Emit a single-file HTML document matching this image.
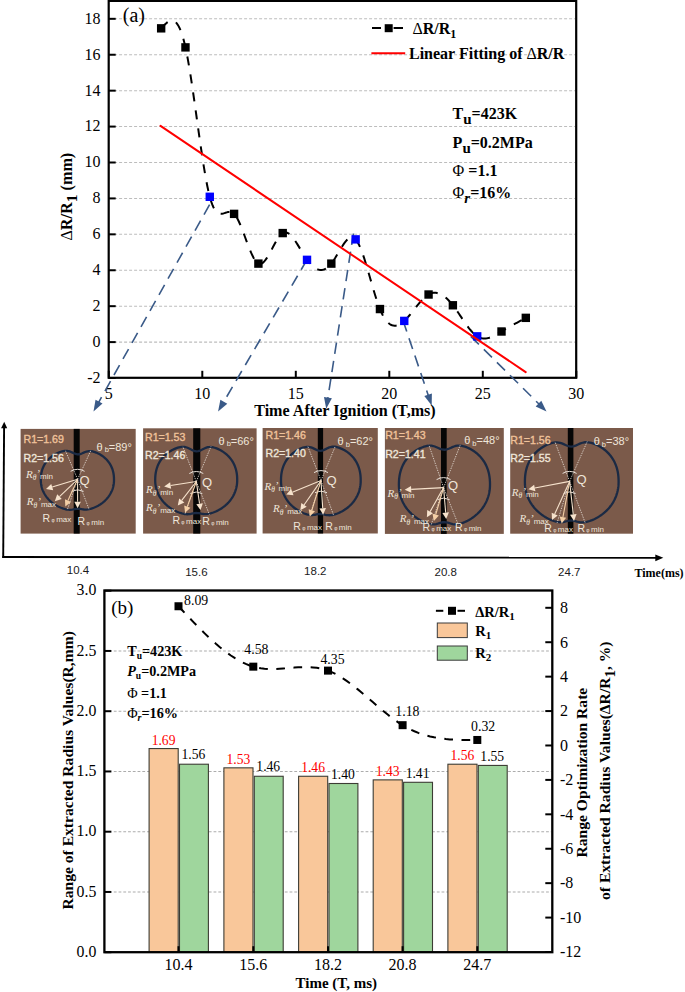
<!DOCTYPE html>
<html><head><meta charset="utf-8"><style>
html,body{margin:0;padding:0;background:#fff;}
svg{display:block;}
</style></head><body>
<svg width="685" height="992" viewBox="0 0 685 992" font-family="Liberation Serif">
<line x1="109.7" y1="342.1" x2="575.2" y2="342.1" stroke="#bdbdbd" stroke-width="1.05" stroke-dasharray="3,2" stroke-dashoffset="0.6"/>
<line x1="109.7" y1="306.18" x2="575.2" y2="306.18" stroke="#bdbdbd" stroke-width="1.05" stroke-dasharray="3,2" stroke-dashoffset="0.6"/>
<line x1="109.7" y1="270.26" x2="575.2" y2="270.26" stroke="#bdbdbd" stroke-width="1.05" stroke-dasharray="3,2" stroke-dashoffset="0.6"/>
<line x1="109.7" y1="234.34" x2="575.2" y2="234.34" stroke="#bdbdbd" stroke-width="1.05" stroke-dasharray="3,2" stroke-dashoffset="0.6"/>
<line x1="109.7" y1="198.42" x2="575.2" y2="198.42" stroke="#bdbdbd" stroke-width="1.05" stroke-dasharray="3,2" stroke-dashoffset="0.6"/>
<line x1="109.7" y1="162.5" x2="575.2" y2="162.5" stroke="#bdbdbd" stroke-width="1.05" stroke-dasharray="3,2" stroke-dashoffset="0.6"/>
<line x1="109.7" y1="126.58" x2="575.2" y2="126.58" stroke="#bdbdbd" stroke-width="1.05" stroke-dasharray="3,2" stroke-dashoffset="0.6"/>
<line x1="109.7" y1="90.66" x2="575.2" y2="90.66" stroke="#bdbdbd" stroke-width="1.05" stroke-dasharray="3,2" stroke-dashoffset="0.6"/>
<line x1="109.7" y1="54.74" x2="575.2" y2="54.74" stroke="#bdbdbd" stroke-width="1.05" stroke-dasharray="3,2" stroke-dashoffset="0.6"/>
<line x1="109.7" y1="18.82" x2="575.2" y2="18.82" stroke="#bdbdbd" stroke-width="1.05" stroke-dasharray="3,2" stroke-dashoffset="0.6"/>
<rect x="108.7" y="0.9" width="467.5" height="376.9" fill="none" stroke="#000" stroke-width="2.2"/>
<line x1="108.7" y1="378.02" x2="115.7" y2="378.02" stroke="#000" stroke-width="2"/>
<text x="100.5" y="382.92" font-size="16" text-anchor="end">-2</text>
<line x1="108.7" y1="342.1" x2="115.7" y2="342.1" stroke="#000" stroke-width="2"/>
<text x="100.5" y="347" font-size="16" text-anchor="end">0</text>
<line x1="108.7" y1="306.18" x2="115.7" y2="306.18" stroke="#000" stroke-width="2"/>
<text x="100.5" y="311.08" font-size="16" text-anchor="end">2</text>
<line x1="108.7" y1="270.26" x2="115.7" y2="270.26" stroke="#000" stroke-width="2"/>
<text x="100.5" y="275.16" font-size="16" text-anchor="end">4</text>
<line x1="108.7" y1="234.34" x2="115.7" y2="234.34" stroke="#000" stroke-width="2"/>
<text x="100.5" y="239.24" font-size="16" text-anchor="end">6</text>
<line x1="108.7" y1="198.42" x2="115.7" y2="198.42" stroke="#000" stroke-width="2"/>
<text x="100.5" y="203.32" font-size="16" text-anchor="end">8</text>
<line x1="108.7" y1="162.5" x2="115.7" y2="162.5" stroke="#000" stroke-width="2"/>
<text x="100.5" y="167.4" font-size="16" text-anchor="end">10</text>
<line x1="108.7" y1="126.58" x2="115.7" y2="126.58" stroke="#000" stroke-width="2"/>
<text x="100.5" y="131.48" font-size="16" text-anchor="end">12</text>
<line x1="108.7" y1="90.66" x2="115.7" y2="90.66" stroke="#000" stroke-width="2"/>
<text x="100.5" y="95.56" font-size="16" text-anchor="end">14</text>
<line x1="108.7" y1="54.74" x2="115.7" y2="54.74" stroke="#000" stroke-width="2"/>
<text x="100.5" y="59.64" font-size="16" text-anchor="end">16</text>
<line x1="108.7" y1="18.82" x2="115.7" y2="18.82" stroke="#000" stroke-width="2"/>
<text x="100.5" y="23.72" font-size="16" text-anchor="end">18</text>
<line x1="108.8" y1="377.8" x2="108.8" y2="370.8" stroke="#000" stroke-width="2"/>
<text x="108.8" y="398.6" font-size="16" text-anchor="middle">5</text>
<line x1="202.3" y1="377.8" x2="202.3" y2="370.8" stroke="#000" stroke-width="2"/>
<text x="202.3" y="398.6" font-size="16" text-anchor="middle">10</text>
<line x1="295.8" y1="377.8" x2="295.8" y2="370.8" stroke="#000" stroke-width="2"/>
<text x="295.8" y="398.6" font-size="16" text-anchor="middle">15</text>
<line x1="389.3" y1="377.8" x2="389.3" y2="370.8" stroke="#000" stroke-width="2"/>
<text x="389.3" y="398.6" font-size="16" text-anchor="middle">20</text>
<line x1="482.8" y1="377.8" x2="482.8" y2="370.8" stroke="#000" stroke-width="2"/>
<text x="482.8" y="398.6" font-size="16" text-anchor="middle">25</text>
<line x1="576.3" y1="377.8" x2="576.3" y2="370.8" stroke="#000" stroke-width="2"/>
<text x="576.3" y="398.6" font-size="16" text-anchor="middle">30</text>
<text x="122.8" y="22.3" font-size="20">(a)</text>
<text transform="translate(72.2,240.6) rotate(-90)" font-size="16.2" font-weight="bold"><tspan font-weight="normal">&#916;</tspan>R/R<tspan font-size="15.5" dy="5">1</tspan><tspan dy="-5"> (mm)</tspan></text>
<line x1="372" y1="28" x2="381" y2="28" stroke="#000" stroke-width="2"/>
<rect x="384.7" y="24.2" width="8" height="8" fill="#000"/>
<line x1="393.6" y1="28" x2="403" y2="28" stroke="#000" stroke-width="2"/>
<text x="412.5" y="33.8" font-size="16" font-weight="bold"><tspan font-weight="normal">&#916;</tspan>R/R<tspan font-size="12" dy="4.6">1</tspan></text>
<line x1="371.4" y1="53.3" x2="405.2" y2="53.3" stroke="#ff0000" stroke-width="2"/>
<text x="409" y="59.2" font-size="16" font-weight="bold">Linear Fitting of <tspan font-weight="normal">&#916;</tspan>R/R</text>
<text x="452.6" y="118.9" font-size="16" font-weight="bold">T<tspan font-size="15" dy="5">u</tspan><tspan dy="-5">=423K</tspan></text>
<text x="452.6" y="147.7" font-size="16" font-weight="bold">P<tspan font-size="15" dy="5">u</tspan><tspan dy="-5">=0.2MPa</tspan></text>
<text x="452.6" y="175.7" font-size="16"><tspan>&#934;</tspan><tspan font-weight="bold"> =1.1</tspan></text>
<text x="452.6" y="198.2" font-size="16">&#934;<tspan font-size="15" font-weight="bold" font-style="italic" dy="5">r</tspan><tspan font-weight="bold" dy="-5">=16%</tspan></text>
<line x1="209.6" y1="204.6" x2="98.54" y2="402.52" stroke="#3a5a88" stroke-width="1.6" stroke-dasharray="11.4,7"/>
<polygon points="93.5,411.5 95.54,399.69 102.52,403.6" fill="#3a5a88"/>
<line x1="306.9" y1="259.9" x2="223.31" y2="402.51" stroke="#3a5a88" stroke-width="1.6" stroke-dasharray="11.4,7"/>
<polygon points="218.1,411.4 220.36,399.63 227.27,403.67" fill="#3a5a88"/>
<line x1="353.4" y1="233.5" x2="327.78" y2="398.62" stroke="#3a5a88" stroke-width="1.6" stroke-dasharray="11.4,7"/>
<polygon points="326.2,408.8 323.98,397.02 331.89,398.25" fill="#3a5a88"/>
<line x1="403.1" y1="320.7" x2="428.41" y2="395.74" stroke="#3a5a88" stroke-width="1.6" stroke-dasharray="11.4,7"/>
<polygon points="431.7,405.5 424.3,396.07 431.88,393.51" fill="#3a5a88"/>
<line x1="470.8" y1="336.4" x2="539.19" y2="404.25" stroke="#3a5a88" stroke-width="1.6" stroke-dasharray="11.4,7"/>
<polygon points="546.5,411.5 535.66,406.38 541.3,400.7" fill="#3a5a88"/>
<path d="M161.16,28.34 L162.38,27.02 L163.59,25.73 L164.81,24.51 L166.02,23.4 L167.24,22.42 L168.45,21.61 L169.67,21.01 L170.88,20.64 L172.1,20.55 L173.31,20.77 L174.53,21.33 L175.75,22.26 L176.96,23.61 L178.18,25.4 L179.39,27.67 L180.61,30.45 L181.82,33.77 L183.04,37.68 L184.25,42.2 L185.47,47.38 L186.69,53.21 L187.9,59.66 L189.12,66.65 L190.33,74.1 L191.55,81.94 L192.76,90.1 L193.98,98.5 L195.19,107.08 L196.41,115.75 L197.62,124.46 L198.84,133.11 L200.06,141.64 L201.27,149.98 L202.49,158.05 L203.7,165.79 L204.92,173.11 L206.13,179.94 L207.35,186.22 L208.56,191.86 L209.78,196.8 L211,200.99 L212.21,204.45 L213.43,207.26 L214.64,209.48 L215.86,211.16 L217.07,212.37 L218.29,213.17 L219.5,213.61 L220.72,213.77 L221.94,213.7 L223.15,213.46 L224.37,213.12 L225.58,212.73 L226.8,212.35 L228.01,212.06 L229.23,211.9 L230.44,211.94 L231.66,212.24 L232.87,212.86 L234.09,213.87 L235.31,215.3 L236.52,217.12 L237.74,219.3 L238.95,221.77 L240.17,224.5 L241.38,227.44 L242.6,230.53 L243.81,233.73 L245.03,237 L246.24,240.29 L247.46,243.54 L248.68,246.72 L249.89,249.77 L251.11,252.65 L252.32,255.31 L253.54,257.69 L254.75,259.77 L255.97,261.48 L257.18,262.77 L258.4,263.61 L259.62,263.97 L260.83,263.85 L262.05,263.33 L263.26,262.42 L264.48,261.19 L265.69,259.68 L266.91,257.92 L268.12,255.96 L269.34,253.85 L270.55,251.63 L271.77,249.35 L272.99,247.04 L274.2,244.75 L275.42,242.54 L276.63,240.43 L277.85,238.47 L279.06,236.72 L280.28,235.21 L281.49,233.98 L282.71,233.08 L283.93,232.55 L285.14,232.36 L286.36,232.5 L287.57,232.94 L288.79,233.65 L290,234.61 L291.22,235.79 L292.43,237.16 L293.65,238.71 L294.87,240.41 L296.08,242.22 L297.3,244.13 L298.51,246.12 L299.73,248.14 L300.94,250.19 L302.16,252.23 L303.37,254.25 L304.59,256.2 L305.8,258.08 L307.02,259.84 L308.24,261.48 L309.45,262.99 L310.67,264.35 L311.88,265.58 L313.1,266.66 L314.31,267.6 L315.53,268.39 L316.74,269.02 L317.96,269.5 L319.18,269.81 L320.39,269.97 L321.61,269.96 L322.82,269.79 L324.04,269.44 L325.25,268.92 L326.47,268.23 L327.68,267.35 L328.9,266.29 L330.11,265.05 L331.33,263.61 L332.55,262 L333.76,260.22 L334.98,258.32 L336.19,256.33 L337.41,254.28 L338.62,252.2 L339.84,250.14 L341.05,248.12 L342.27,246.17 L343.49,244.33 L344.7,242.64 L345.92,241.13 L347.13,239.82 L348.35,238.76 L349.56,237.97 L350.78,237.5 L351.99,237.36 L353.21,237.61 L354.42,238.27 L355.64,239.37 L356.86,240.94 L358.07,242.94 L359.29,245.35 L360.5,248.11 L361.72,251.19 L362.93,254.56 L364.15,258.16 L365.36,261.97 L366.58,265.94 L367.79,270.04 L369.01,274.21 L370.23,278.43 L371.44,282.66 L372.66,286.85 L373.87,290.97 L375.09,294.97 L376.3,298.82 L377.52,302.47 L378.73,305.9 L379.95,309.05 L381.17,311.9 L382.38,314.46 L383.6,316.72 L384.81,318.7 L386.03,320.41 L387.24,321.86 L388.46,323.07 L389.67,324.04 L390.89,324.78 L392.11,325.3 L393.32,325.62 L394.54,325.74 L395.75,325.68 L396.97,325.44 L398.18,325.03 L399.4,324.47 L400.61,323.77 L401.83,322.94 L403.04,321.98 L404.26,320.91 L405.48,319.73 L406.69,318.47 L407.91,317.13 L409.12,315.73 L410.34,314.27 L411.55,312.77 L412.77,311.25 L413.98,309.71 L415.2,308.16 L416.42,306.63 L417.63,305.11 L418.85,303.63 L420.06,302.2 L421.28,300.83 L422.49,299.52 L423.71,298.3 L424.92,297.18 L426.14,296.16 L427.35,295.27 L428.57,294.51 L429.79,293.89 L431,293.41 L432.22,293.07 L433.43,292.86 L434.65,292.79 L435.86,292.85 L437.08,293.03 L438.29,293.33 L439.51,293.76 L440.73,294.29 L441.94,294.94 L443.16,295.7 L444.37,296.57 L445.59,297.53 L446.8,298.6 L448.02,299.76 L449.23,301.01 L450.45,302.35 L451.66,303.77 L452.88,305.28 L454.1,306.87 L455.31,308.52 L456.53,310.23 L457.74,311.98 L458.96,313.76 L460.17,315.57 L461.39,317.38 L462.6,319.19 L463.82,320.98 L465.04,322.75 L466.25,324.47 L467.47,326.15 L468.68,327.77 L469.9,329.31 L471.11,330.76 L472.33,332.12 L473.54,333.37 L474.76,334.5 L475.97,335.5 L477.19,336.35 L478.41,337.05 L479.62,337.61 L480.84,338.02 L482.05,338.3 L483.27,338.46 L484.48,338.5 L485.7,338.43 L486.91,338.27 L488.13,338.01 L489.35,337.68 L490.56,337.26 L491.78,336.78 L492.99,336.24 L494.21,335.65 L495.42,335.02 L496.64,334.35 L497.85,333.66 L499.07,332.95 L500.28,332.23 L501.5,331.5 L502.78,330.75 L504.06,330 L505.34,329.25 L506.62,328.51 L507.9,327.78 L509.18,327.05 L510.46,326.32 L511.74,325.6 L513.02,324.89 L514.29,324.17 L515.57,323.46 L516.85,322.76 L518.13,322.05 L519.41,321.35 L520.69,320.65 L521.97,319.95 L523.25,319.25 L524.53,318.55 L525.81,317.85" fill="none" stroke="#000" stroke-width="2" stroke-dasharray="9,9.16"/>
<rect x="156.96" y="24.14" width="8.4" height="8.4" fill="#000"/>
<rect x="181.27" y="43.18" width="8.4" height="8.4" fill="#000"/>
<rect x="205.58" y="192.6" width="8.4" height="8.4" fill="#0000ff"/>
<rect x="229.89" y="209.67" width="8.4" height="8.4" fill="#000"/>
<rect x="254.2" y="259.41" width="8.4" height="8.4" fill="#000"/>
<rect x="278.51" y="228.88" width="8.4" height="8.4" fill="#000"/>
<rect x="302.82" y="255.64" width="8.4" height="8.4" fill="#0000ff"/>
<rect x="327.13" y="259.41" width="8.4" height="8.4" fill="#000"/>
<rect x="351.44" y="235.17" width="8.4" height="8.4" fill="#0000ff"/>
<rect x="375.75" y="304.85" width="8.4" height="8.4" fill="#000"/>
<rect x="400.06" y="316.71" width="8.4" height="8.4" fill="#0000ff"/>
<rect x="424.37" y="290.31" width="8.4" height="8.4" fill="#000"/>
<rect x="448.68" y="301.08" width="8.4" height="8.4" fill="#000"/>
<rect x="472.99" y="332.15" width="8.4" height="8.4" fill="#0000ff"/>
<rect x="497.3" y="327.3" width="8.4" height="8.4" fill="#000"/>
<rect x="521.61" y="313.65" width="8.4" height="8.4" fill="#000"/>
<line x1="160.5" y1="125.9" x2="525.7" y2="372.1" stroke="#ff0000" stroke-width="2" stroke-linecap="round"/>
<text x="254.2" y="416" font-size="16.1" font-weight="bold">Time After Ignition (T,ms)</text>
<line x1="4.1" y1="427" x2="3.2" y2="557.9" stroke="#000" stroke-width="1.9"/>
<polygon points="4.2,421.8 1.1,428.2 7.2,428.2" fill="#000"/>
<line x1="2.3" y1="557" x2="657" y2="557.8" stroke="#000" stroke-width="1.9"/>
<polygon points="663.3,557.8 655.3,554.4 655.3,561.2" fill="#000"/>
<text x="78" y="574" font-family="Liberation Sans" font-size="11.5" fill="#1a1a1a" text-anchor="middle">10.4</text>
<text x="196.4" y="576" font-family="Liberation Sans" font-size="11.5" fill="#1a1a1a" text-anchor="middle">15.6</text>
<text x="315.3" y="575.2" font-family="Liberation Sans" font-size="11.5" fill="#1a1a1a" text-anchor="middle">18.2</text>
<text x="445.7" y="575.8" font-family="Liberation Sans" font-size="11.5" fill="#1a1a1a" text-anchor="middle">20.8</text>
<text x="569.3" y="576" font-family="Liberation Sans" font-size="11.5" fill="#1a1a1a" text-anchor="middle">24.7</text>
<text x="634.5" y="577" font-size="12" font-weight="bold">Time(ms)</text>
<rect x="20.6" y="428.9" width="115.1" height="104.7" fill="#7b5a4a"/>
<rect x="73.7" y="428.9" width="6" height="104.7" fill="#060606"/>
<path d="M114,480.05 L113.98,481.21 L113.91,482.34 L113.8,483.45 L113.65,484.54 L113.46,485.62 L113.22,486.69 L112.94,487.75 L112.62,488.8 L112.25,489.83 L111.84,490.85 L111.4,491.85 L110.91,492.83 L110.38,493.8 L109.81,494.75 L109.21,495.69 L108.56,496.6 L107.88,497.49 L107.16,498.36 L106.41,499.21 L105.62,500.03 L104.8,500.83 L103.94,501.6 L103.05,502.35 L102.13,503.07 L101.18,503.76 L100.2,504.42 L99.19,505.06 L98.16,505.66 L97.1,506.23 L96.01,506.77 L94.9,507.28 L93.77,507.75 L92.62,508.19 L91.44,508.59 L90.25,508.94 L89.04,509.22 L87.81,509.44 L86.57,509.57 L85.31,509.59 L84.03,509.51 L82.74,509.35 L81.44,509.13 L80.12,508.93 L78.79,508.81 L77.4,508.82 L76.01,508.96 L74.68,509.19 L73.36,509.45 L72.06,509.65 L70.77,509.78 L69.49,509.79 L68.23,509.71 L66.99,509.53 L65.76,509.28 L64.55,508.96 L63.36,508.6 L62.18,508.2 L61.03,507.76 L59.9,507.28 L58.79,506.77 L57.7,506.23 L56.64,505.66 L55.61,505.06 L54.6,504.42 L53.62,503.76 L52.67,503.07 L51.75,502.35 L50.86,501.6 L50,500.83 L49.18,500.03 L48.39,499.21 L47.64,498.36 L46.92,497.49 L46.24,496.6 L45.59,495.69 L44.99,494.75 L44.42,493.8 L43.89,492.83 L43.4,491.85 L42.96,490.85 L42.55,489.83 L42.18,488.8 L41.86,487.75 L41.58,486.69 L41.34,485.62 L41.15,484.54 L41,483.45 L40.89,482.34 L40.82,481.21 L40.8,480.05 L40.82,478.49 L40.88,477.17 L40.98,475.92 L41.12,474.72 L41.29,473.56 L41.51,472.44 L41.77,471.34 L42.06,470.27 L42.4,469.22 L42.77,468.2 L43.18,467.2 L43.63,466.23 L44.11,465.28 L44.63,464.35 L45.19,463.44 L45.79,462.56 L46.42,461.71 L47.08,460.88 L47.79,460.07 L48.52,459.29 L49.29,458.53 L50.09,457.81 L50.93,457.11 L51.79,456.43 L52.69,455.79 L53.62,455.17 L54.58,454.58 L55.57,454.02 L56.59,453.49 L57.63,453 L58.71,452.54 L59.82,452.11 L60.95,451.73 L62.11,451.4 L63.3,451.13 L64.51,450.95 L65.76,450.86 L67.03,450.9 L68.34,451.09 L69.68,451.45 L71.06,451.96 L72.48,452.6 L73.97,453.29 L75.55,453.91 L77.4,454.31 L79.25,454.24 L80.83,453.82 L82.32,453.23 L83.74,452.6 L85.12,452.02 L86.46,451.57 L87.77,451.27 L89.04,451.13 L90.29,451.13 L91.5,451.26 L92.69,451.48 L93.85,451.78 L94.98,452.14 L96.09,452.55 L97.17,453.01 L98.21,453.5 L99.23,454.03 L100.22,454.58 L101.18,455.17 L102.11,455.79 L103.01,456.43 L103.87,457.11 L104.71,457.81 L105.51,458.53 L106.28,459.29 L107.01,460.07 L107.72,460.88 L108.38,461.71 L109.01,462.56 L109.61,463.44 L110.17,464.35 L110.69,465.28 L111.17,466.23 L111.62,467.2 L112.03,468.2 L112.4,469.22 L112.74,470.27 L113.03,471.34 L113.29,472.44 L113.51,473.56 L113.68,474.72 L113.82,475.92 L113.92,477.17 L113.98,478.49 Z" fill="none" stroke="#1b2a44" stroke-width="2.3"/>
<line x1="77.6" y1="479.3" x2="65.46" y2="450.8" stroke="#e8e0d8" stroke-width="0.9" stroke-dasharray="1.4,1.1" opacity="0.9"/>
<line x1="77.6" y1="479.3" x2="90.7" y2="450.8" stroke="#e8e0d8" stroke-width="0.9" stroke-dasharray="1.4,1.1" opacity="0.9"/>
<line x1="77.6" y1="479.3" x2="67.3" y2="509.8" stroke="#e8e0d8" stroke-width="0.9" stroke-dasharray="1.4,1.1" opacity="0.9"/>
<line x1="77.6" y1="479.3" x2="89.25" y2="509.8" stroke="#e8e0d8" stroke-width="0.9" stroke-dasharray="1.4,1.1" opacity="0.9"/>
<path d="M70.6,471.3 Q77.6,467.3 84.6,471.3" fill="none" stroke="#e8e0d8" stroke-width="1"/>
<path d="M71.6,491.3 Q77.6,488.3 83.6,491.3" fill="none" stroke="#e8e0d8" stroke-width="1"/>
<line x1="77.6" y1="479.3" x2="52.21" y2="487.09" stroke="#f6e2cc" stroke-width="1.1"/>
<polygon points="46,489 51.25,483.94 53.18,490.25" fill="#f6e2cc"/>
<line x1="77.6" y1="479.3" x2="59.49" y2="496.7" stroke="#f6e2cc" stroke-width="1.1"/>
<polygon points="54.8,501.2 57.2,494.32 61.77,499.08" fill="#f6e2cc"/>
<line x1="77.6" y1="479.3" x2="67.98" y2="500.58" stroke="#f4cfa6" stroke-width="1.1"/>
<polygon points="65.3,506.5 64.97,499.22 70.99,501.94" fill="#f4cfa6"/>
<line x1="77.6" y1="479.3" x2="77.6" y2="501.7" stroke="#f6e2cc" stroke-width="1.1"/>
<polygon points="77.6,508.2 74.3,501.7 80.9,501.7" fill="#f6e2cc"/>
<text x="23.5" y="443.4" font-family="Liberation Sans" font-size="10.6" fill="#f0c29a" stroke="#f0c29a" stroke-width="0.35">R1=1.69</text>
<text x="23.5" y="461.8" font-family="Liberation Sans" font-size="10.6" fill="#efe6da" stroke="#efe6da" stroke-width="0.35">R2=1.56</text>
<text x="131.9" y="450.8" font-family="Liberation Sans" font-size="11" fill="#efe6da" text-anchor="end">&#952;<tspan font-size="7.5" dy="1.5"> b</tspan><tspan dy="-1.5">=89&#176;</tspan></text>
<text x="79.4" y="484.6" font-family="Liberation Sans" font-size="13" fill="#efe6da">Q</text>
<text x="25.9" y="477.8" font-family="Liberation Serif" font-style="italic" font-size="11" fill="#efe6da">R<tspan font-size="7.5" dy="2.5">&#952;</tspan><tspan dy="-3">&#8217;</tspan><tspan font-family="Liberation Sans" font-style="normal" font-size="8" dy="2">min</tspan></text>
<text x="26.8" y="505" font-family="Liberation Serif" font-style="italic" font-size="11" fill="#efe6da">R<tspan font-size="7.5" dy="2.5">&#952;</tspan><tspan dy="-3">&#8217;</tspan><tspan font-family="Liberation Sans" font-style="normal" font-size="8" dy="2">max</tspan></text>
<text x="42.5" y="522.2" font-family="Liberation Sans" font-size="10.5" fill="#efe6da">R<tspan font-size="5"> &#966; </tspan><tspan font-size="8">max</tspan></text>
<text x="77.6" y="524.9" font-family="Liberation Sans" font-size="10.5" fill="#efe6da">R<tspan font-size="5"> &#966; </tspan><tspan font-size="8">min</tspan></text>
<rect x="143.1" y="428.3" width="113.5" height="105.3" fill="#7b5a4a"/>
<rect x="193.2" y="428.3" width="7.1" height="105.3" fill="#060606"/>
<path d="M237.2,480.2 L237.18,481.54 L237.1,482.83 L236.98,484.1 L236.81,485.35 L236.59,486.6 L236.33,487.83 L236.01,489.04 L235.65,490.24 L235.24,491.43 L234.79,492.59 L234.28,493.74 L233.74,494.88 L233.15,495.99 L232.51,497.08 L231.83,498.15 L231.11,499.2 L230.35,500.22 L229.54,501.22 L228.7,502.19 L227.81,503.14 L226.89,504.05 L225.93,504.94 L224.94,505.8 L223.9,506.62 L222.84,507.42 L221.74,508.18 L220.61,508.91 L219.45,509.6 L218.27,510.26 L217.05,510.88 L215.81,511.46 L214.54,512 L213.25,512.51 L211.93,512.96 L210.59,513.36 L209.24,513.7 L207.86,513.95 L206.47,514.09 L205.06,514.11 L203.63,514.01 L202.19,513.79 L200.73,513.51 L199.25,513.23 L197.75,513.04 L196.2,513.01 L194.65,513.16 L193.15,513.43 L191.67,513.74 L190.21,514.02 L188.77,514.21 L187.34,514.27 L185.93,514.2 L184.54,514.01 L183.16,513.74 L181.81,513.38 L180.47,512.97 L179.15,512.51 L177.86,512.01 L176.59,511.46 L175.35,510.88 L174.13,510.26 L172.95,509.6 L171.79,508.91 L170.66,508.18 L169.56,507.42 L168.5,506.62 L167.46,505.8 L166.47,504.94 L165.51,504.05 L164.59,503.14 L163.7,502.19 L162.86,501.22 L162.05,500.22 L161.29,499.2 L160.57,498.15 L159.89,497.08 L159.25,495.99 L158.66,494.88 L158.12,493.74 L157.61,492.59 L157.16,491.43 L156.75,490.24 L156.39,489.04 L156.07,487.83 L155.81,486.6 L155.59,485.35 L155.42,484.1 L155.3,482.83 L155.22,481.54 L155.2,480.2 L155.22,478.41 L155.29,476.89 L155.4,475.46 L155.55,474.08 L155.75,472.75 L156,471.46 L156.28,470.2 L156.61,468.97 L156.99,467.77 L157.41,466.6 L157.86,465.45 L158.37,464.33 L158.91,463.24 L159.49,462.18 L160.12,461.14 L160.79,460.13 L161.49,459.14 L162.24,458.19 L163.02,457.26 L163.85,456.37 L164.71,455.5 L165.61,454.67 L166.54,453.86 L167.51,453.09 L168.52,452.35 L169.56,451.64 L170.64,450.96 L171.74,450.32 L172.88,449.72 L174.06,449.15 L175.26,448.62 L176.5,448.14 L177.77,447.71 L179.07,447.34 L180.4,447.06 L181.76,446.87 L183.16,446.82 L184.59,446.93 L186.05,447.24 L187.55,447.75 L189.1,448.45 L190.69,449.29 L192.36,450.17 L194.12,450.93 L196.2,451.37 L198.28,451.18 L200.04,450.58 L201.71,449.77 L203.3,448.94 L204.85,448.19 L206.35,447.6 L207.81,447.22 L209.24,447.03 L210.64,447.02 L212,447.15 L213.33,447.4 L214.63,447.75 L215.9,448.16 L217.14,448.63 L218.34,449.16 L219.52,449.72 L220.66,450.32 L221.76,450.96 L222.84,451.64 L223.88,452.35 L224.89,453.09 L225.86,453.86 L226.79,454.67 L227.69,455.5 L228.55,456.37 L229.38,457.26 L230.16,458.19 L230.91,459.14 L231.61,460.13 L232.28,461.14 L232.91,462.18 L233.49,463.24 L234.03,464.33 L234.54,465.45 L234.99,466.6 L235.41,467.77 L235.79,468.97 L236.12,470.2 L236.4,471.46 L236.65,472.75 L236.85,474.08 L237,475.46 L237.11,476.89 L237.18,478.41 Z" fill="none" stroke="#1b2a44" stroke-width="2.3"/>
<line x1="196.3" y1="481.5" x2="182.74" y2="446.4" stroke="#e8e0d8" stroke-width="0.9" stroke-dasharray="1.4,1.1" opacity="0.9"/>
<line x1="196.3" y1="481.5" x2="211.02" y2="446.4" stroke="#e8e0d8" stroke-width="0.9" stroke-dasharray="1.4,1.1" opacity="0.9"/>
<line x1="196.3" y1="481.5" x2="184.79" y2="514.5" stroke="#e8e0d8" stroke-width="0.9" stroke-dasharray="1.4,1.1" opacity="0.9"/>
<line x1="196.3" y1="481.5" x2="209.39" y2="514.5" stroke="#e8e0d8" stroke-width="0.9" stroke-dasharray="1.4,1.1" opacity="0.9"/>
<path d="M189.3,473.5 Q196.3,469.5 203.3,473.5" fill="none" stroke="#e8e0d8" stroke-width="1"/>
<path d="M190.3,493.5 Q196.3,490.5 202.3,493.5" fill="none" stroke="#e8e0d8" stroke-width="1"/>
<line x1="196.3" y1="481.5" x2="170.62" y2="485.5" stroke="#f6e2cc" stroke-width="1.1"/>
<polygon points="164.2,486.5 170.11,482.24 171.13,488.76" fill="#f6e2cc"/>
<line x1="196.3" y1="481.5" x2="181.76" y2="500.44" stroke="#f6e2cc" stroke-width="1.1"/>
<polygon points="177.8,505.6 179.14,498.43 184.38,502.45" fill="#f6e2cc"/>
<line x1="196.3" y1="481.5" x2="187.29" y2="506.68" stroke="#f4cfa6" stroke-width="1.1"/>
<polygon points="185.1,512.8 184.18,505.57 190.4,507.79" fill="#f4cfa6"/>
<line x1="196.3" y1="481.5" x2="199.56" y2="503.67" stroke="#f6e2cc" stroke-width="1.1"/>
<polygon points="200.5,510.1 196.29,504.15 202.82,503.19" fill="#f6e2cc"/>
<text x="145" y="441.3" font-family="Liberation Sans" font-size="10.6" fill="#f0c29a" stroke="#f0c29a" stroke-width="0.35">R1=1.53</text>
<text x="145" y="459.4" font-family="Liberation Sans" font-size="10.6" fill="#efe6da" stroke="#efe6da" stroke-width="0.35">R2=1.46</text>
<text x="253.9" y="444.8" font-family="Liberation Sans" font-size="11" fill="#efe6da" text-anchor="end">&#952;<tspan font-size="7.5" dy="1.5"> b</tspan><tspan dy="-1.5">=66&#176;</tspan></text>
<text x="202" y="486.5" font-family="Liberation Sans" font-size="13" fill="#efe6da">Q</text>
<text x="146.1" y="493.2" font-family="Liberation Serif" font-style="italic" font-size="11" fill="#efe6da">R<tspan font-size="7.5" dy="2.5">&#952;</tspan><tspan dy="-3">&#8217;</tspan><tspan font-family="Liberation Sans" font-style="normal" font-size="8" dy="2">min</tspan></text>
<text x="146.1" y="511.3" font-family="Liberation Serif" font-style="italic" font-size="11" fill="#efe6da">R<tspan font-size="7.5" dy="2.5">&#952;</tspan><tspan dy="-3">&#8217;</tspan><tspan font-family="Liberation Sans" font-style="normal" font-size="8" dy="2">max</tspan></text>
<text x="172.4" y="523.7" font-family="Liberation Sans" font-size="10.5" fill="#efe6da">R<tspan font-size="5"> &#966; </tspan><tspan font-size="8">max</tspan></text>
<text x="202.3" y="524.6" font-family="Liberation Sans" font-size="10.5" fill="#efe6da">R<tspan font-size="5"> &#966; </tspan><tspan font-size="8">min</tspan></text>
<rect x="262.6" y="428.0" width="115.2" height="105.5" fill="#7b5a4a"/>
<rect x="317.8" y="428.0" width="5.3" height="105.5" fill="#060606"/>
<path d="M360.7,480.65 L360.68,482.01 L360.61,483.32 L360.49,484.61 L360.32,485.89 L360.11,487.15 L359.85,488.39 L359.54,489.63 L359.19,490.85 L358.8,492.05 L358.35,493.24 L357.87,494.41 L357.34,495.55 L356.76,496.68 L356.14,497.79 L355.48,498.88 L354.78,499.94 L354.04,500.98 L353.26,502 L352.44,502.98 L351.58,503.94 L350.68,504.87 L349.75,505.78 L348.78,506.65 L347.78,507.49 L346.74,508.29 L345.68,509.06 L344.58,509.8 L343.45,510.51 L342.3,511.17 L341.11,511.81 L339.91,512.4 L338.67,512.95 L337.42,513.47 L336.14,513.93 L334.84,514.35 L333.52,514.71 L332.18,515 L330.83,515.19 L329.46,515.26 L328.07,515.21 L326.67,515.04 L325.25,514.76 L323.82,514.44 L322.36,514.17 L320.85,514.01 L319.34,514.04 L317.88,514.22 L316.45,514.49 L315.03,514.77 L313.63,514.98 L312.24,515.09 L310.87,515.07 L309.52,514.92 L308.18,514.67 L306.86,514.33 L305.56,513.92 L304.28,513.46 L303.03,512.95 L301.79,512.4 L300.59,511.81 L299.4,511.17 L298.25,510.51 L297.12,509.8 L296.02,509.06 L294.96,508.29 L293.92,507.49 L292.92,506.65 L291.95,505.78 L291.02,504.87 L290.12,503.94 L289.26,502.98 L288.44,502 L287.66,500.98 L286.92,499.94 L286.22,498.88 L285.56,497.79 L284.94,496.68 L284.36,495.55 L283.83,494.41 L283.35,493.24 L282.9,492.05 L282.51,490.85 L282.16,489.63 L281.85,488.39 L281.59,487.15 L281.38,485.89 L281.21,484.61 L281.09,483.32 L281.02,482.01 L281,480.65 L281.02,478.83 L281.09,477.29 L281.19,475.83 L281.34,474.44 L281.54,473.09 L281.78,471.78 L282.05,470.5 L282.38,469.25 L282.74,468.03 L283.14,466.84 L283.59,465.67 L284.08,464.54 L284.61,463.43 L285.17,462.34 L285.78,461.29 L286.43,460.26 L287.12,459.27 L287.84,458.3 L288.61,457.36 L289.41,456.45 L290.24,455.57 L291.12,454.72 L292.02,453.9 L292.97,453.12 L293.95,452.36 L294.96,451.64 L296,450.96 L297.08,450.31 L298.19,449.7 L299.33,449.12 L300.5,448.59 L301.7,448.11 L302.94,447.68 L304.2,447.33 L305.49,447.06 L306.82,446.91 L308.17,446.9 L309.56,447.05 L310.98,447.39 L312.44,447.92 L313.95,448.6 L315.5,449.36 L317.11,450.09 L318.83,450.63 L320.85,450.78 L322.87,450.36 L324.59,449.65 L326.2,448.85 L327.75,448.08 L329.26,447.45 L330.72,447 L332.14,446.75 L333.53,446.68 L334.88,446.76 L336.21,446.96 L337.5,447.26 L338.76,447.64 L340,448.08 L341.2,448.58 L342.37,449.11 L343.51,449.69 L344.62,450.31 L345.7,450.96 L346.74,451.64 L347.75,452.36 L348.73,453.12 L349.68,453.9 L350.58,454.72 L351.46,455.57 L352.29,456.45 L353.09,457.36 L353.86,458.3 L354.58,459.27 L355.27,460.26 L355.92,461.29 L356.53,462.34 L357.09,463.43 L357.62,464.54 L358.11,465.67 L358.56,466.84 L358.96,468.03 L359.32,469.25 L359.65,470.5 L359.92,471.78 L360.16,473.09 L360.36,474.44 L360.51,475.83 L360.61,477.29 L360.68,478.83 Z" fill="none" stroke="#1b2a44" stroke-width="2.3"/>
<line x1="321" y1="480.6" x2="307.8" y2="446.3" stroke="#e8e0d8" stroke-width="0.9" stroke-dasharray="1.4,1.1" opacity="0.9"/>
<line x1="321" y1="480.6" x2="335.29" y2="446.3" stroke="#e8e0d8" stroke-width="0.9" stroke-dasharray="1.4,1.1" opacity="0.9"/>
<line x1="321" y1="480.6" x2="309.8" y2="515.5" stroke="#e8e0d8" stroke-width="0.9" stroke-dasharray="1.4,1.1" opacity="0.9"/>
<line x1="321" y1="480.6" x2="333.7" y2="515.5" stroke="#e8e0d8" stroke-width="0.9" stroke-dasharray="1.4,1.1" opacity="0.9"/>
<path d="M314,472.6 Q321,468.6 328,472.6" fill="none" stroke="#e8e0d8" stroke-width="1"/>
<path d="M315,492.6 Q321,489.6 327,492.6" fill="none" stroke="#e8e0d8" stroke-width="1"/>
<line x1="321" y1="480.6" x2="292.33" y2="492.17" stroke="#f6e2cc" stroke-width="1.1"/>
<polygon points="286.3,494.6 291.09,489.11 293.56,495.23" fill="#f6e2cc"/>
<line x1="321" y1="480.6" x2="304.02" y2="504.97" stroke="#f6e2cc" stroke-width="1.1"/>
<polygon points="300.3,510.3 301.31,503.08 306.72,506.85" fill="#f6e2cc"/>
<line x1="321" y1="480.6" x2="311.82" y2="510.29" stroke="#f4cfa6" stroke-width="1.1"/>
<polygon points="309.9,516.5 308.67,509.32 314.97,511.26" fill="#f4cfa6"/>
<line x1="321" y1="480.6" x2="322.7" y2="508.21" stroke="#f6e2cc" stroke-width="1.1"/>
<polygon points="323.1,514.7 319.41,508.42 325.99,508.01" fill="#f6e2cc"/>
<text x="265.5" y="438.9" font-family="Liberation Sans" font-size="10.6" fill="#f0c29a" stroke="#f0c29a" stroke-width="0.35">R1=1.46</text>
<text x="265.5" y="456.9" font-family="Liberation Sans" font-size="10.6" fill="#efe6da" stroke="#efe6da" stroke-width="0.35">R2=1.40</text>
<text x="373" y="445" font-family="Liberation Sans" font-size="11" fill="#efe6da" text-anchor="end">&#952;<tspan font-size="7.5" dy="1.5"> b</tspan><tspan dy="-1.5">=62&#176;</tspan></text>
<text x="326.6" y="484.9" font-family="Liberation Sans" font-size="13" fill="#efe6da">Q</text>
<text x="264.4" y="489.6" font-family="Liberation Serif" font-style="italic" font-size="11" fill="#efe6da">R<tspan font-size="7.5" dy="2.5">&#952;</tspan><tspan dy="-3">&#8217;</tspan><tspan font-family="Liberation Sans" font-style="normal" font-size="8" dy="2">min</tspan></text>
<text x="273.1" y="512.3" font-family="Liberation Serif" font-style="italic" font-size="11" fill="#efe6da">R<tspan font-size="7.5" dy="2.5">&#952;</tspan><tspan dy="-3">&#8217;</tspan><tspan font-family="Liberation Sans" font-style="normal" font-size="8" dy="2">max</tspan></text>
<text x="293.3" y="529.6" font-family="Liberation Sans" font-size="10.5" fill="#efe6da">R<tspan font-size="5"> &#966; </tspan><tspan font-size="8">max</tspan></text>
<text x="325.2" y="529.6" font-family="Liberation Sans" font-size="10.5" fill="#efe6da">R<tspan font-size="5"> &#966; </tspan><tspan font-size="8">min</tspan></text>
<rect x="384.9" y="428.0" width="118.9" height="105.9" fill="#7b5a4a"/>
<rect x="441.0" y="428.0" width="5.7" height="105.9" fill="#060606"/>
<path d="M490,484.75 L489.97,486.32 L489.89,487.83 L489.76,489.32 L489.57,490.79 L489.32,492.24 L489.03,493.68 L488.68,495.11 L488.28,496.51 L487.82,497.9 L487.32,499.27 L486.76,500.62 L486.15,501.94 L485.5,503.24 L484.79,504.52 L484.04,505.78 L483.23,507 L482.39,508.2 L481.49,509.37 L480.55,510.51 L479.57,511.62 L478.55,512.69 L477.48,513.73 L476.37,514.73 L475.23,515.7 L474.05,516.63 L472.83,517.52 L471.57,518.38 L470.28,519.19 L468.96,519.96 L467.61,520.69 L466.23,521.37 L464.82,522.01 L463.39,522.59 L461.93,523.13 L460.44,523.59 L458.93,523.97 L457.41,524.25 L455.86,524.38 L454.29,524.35 L452.7,524.12 L451.1,523.72 L449.48,523.2 L447.84,522.67 L446.18,522.27 L444.45,522.1 L442.72,522.25 L441.06,522.64 L439.42,523.16 L437.8,523.68 L436.2,524.08 L434.61,524.32 L433.04,524.36 L431.49,524.24 L429.97,523.97 L428.46,523.59 L426.97,523.12 L425.51,522.59 L424.08,522.01 L422.67,521.37 L421.29,520.69 L419.94,519.96 L418.62,519.19 L417.33,518.38 L416.07,517.52 L414.85,516.63 L413.67,515.7 L412.53,514.73 L411.42,513.73 L410.35,512.69 L409.33,511.62 L408.35,510.51 L407.41,509.37 L406.51,508.2 L405.67,507 L404.86,505.78 L404.11,504.52 L403.4,503.24 L402.75,501.94 L402.14,500.62 L401.58,499.27 L401.08,497.9 L400.62,496.51 L400.22,495.11 L399.87,493.68 L399.58,492.24 L399.33,490.79 L399.14,489.32 L399.01,487.83 L398.93,486.32 L398.9,484.75 L398.92,482.65 L399,480.87 L399.12,479.2 L399.29,477.59 L399.52,476.03 L399.79,474.51 L400.1,473.04 L400.47,471.6 L400.89,470.19 L401.35,468.82 L401.86,467.47 L402.42,466.16 L403.02,464.88 L403.67,463.64 L404.37,462.42 L405.11,461.24 L405.89,460.08 L406.72,458.97 L407.59,457.88 L408.51,456.83 L409.46,455.82 L410.46,454.84 L411.5,453.9 L412.58,452.99 L413.7,452.12 L414.85,451.29 L416.05,450.5 L417.28,449.75 L418.55,449.04 L419.85,448.38 L421.19,447.76 L422.57,447.2 L423.98,446.69 L425.42,446.26 L426.9,445.93 L428.41,445.7 L429.96,445.62 L431.55,445.72 L433.17,446.02 L434.84,446.52 L436.56,447.21 L438.33,448.01 L440.18,448.82 L442.14,449.47 L444.45,449.76 L446.76,449.44 L448.72,448.77 L450.57,447.96 L452.34,447.15 L454.06,446.47 L455.73,445.98 L457.35,445.69 L458.94,445.6 L460.49,445.69 L462,445.92 L463.48,446.26 L464.92,446.69 L466.33,447.19 L467.71,447.76 L469.05,448.38 L470.35,449.04 L471.62,449.75 L472.85,450.5 L474.05,451.29 L475.2,452.12 L476.32,452.99 L477.4,453.9 L478.44,454.84 L479.44,455.82 L480.39,456.83 L481.31,457.88 L482.18,458.97 L483.01,460.08 L483.79,461.24 L484.53,462.42 L485.23,463.64 L485.88,464.88 L486.48,466.16 L487.04,467.47 L487.55,468.82 L488.01,470.19 L488.43,471.6 L488.8,473.04 L489.11,474.51 L489.38,476.03 L489.61,477.59 L489.78,479.2 L489.9,480.87 L489.98,482.65 Z" fill="none" stroke="#1b2a44" stroke-width="2.3"/>
<line x1="443.6" y1="487.6" x2="428.85" y2="444.9" stroke="#e8e0d8" stroke-width="0.9" stroke-dasharray="1.4,1.1" opacity="0.9"/>
<line x1="443.6" y1="487.6" x2="460.3" y2="444.9" stroke="#e8e0d8" stroke-width="0.9" stroke-dasharray="1.4,1.1" opacity="0.9"/>
<line x1="443.6" y1="487.6" x2="431.08" y2="525.1" stroke="#e8e0d8" stroke-width="0.9" stroke-dasharray="1.4,1.1" opacity="0.9"/>
<line x1="443.6" y1="487.6" x2="458.45" y2="525.1" stroke="#e8e0d8" stroke-width="0.9" stroke-dasharray="1.4,1.1" opacity="0.9"/>
<path d="M436.6,479.6 Q443.6,475.6 450.6,479.6" fill="none" stroke="#e8e0d8" stroke-width="1"/>
<path d="M437.6,499.6 Q443.6,496.6 449.6,499.6" fill="none" stroke="#e8e0d8" stroke-width="1"/>
<line x1="443.6" y1="487.6" x2="411.19" y2="489.35" stroke="#f6e2cc" stroke-width="1.1"/>
<polygon points="404.7,489.7 411.01,486.05 411.37,492.64" fill="#f6e2cc"/>
<line x1="443.6" y1="487.6" x2="430.09" y2="511.63" stroke="#f6e2cc" stroke-width="1.1"/>
<polygon points="426.9,517.3 427.21,510.02 432.96,513.25" fill="#f6e2cc"/>
<line x1="443.6" y1="487.6" x2="435.72" y2="514.66" stroke="#f4cfa6" stroke-width="1.1"/>
<polygon points="433.9,520.9 432.55,513.74 438.89,515.58" fill="#f4cfa6"/>
<line x1="443.6" y1="487.6" x2="445.67" y2="512.62" stroke="#f6e2cc" stroke-width="1.1"/>
<polygon points="446.2,519.1 442.38,512.89 448.95,512.35" fill="#f6e2cc"/>
<text x="385.2" y="438.9" font-family="Liberation Sans" font-size="10.6" fill="#f0c29a" stroke="#f0c29a" stroke-width="0.35">R1=1.43</text>
<text x="385.2" y="457.8" font-family="Liberation Sans" font-size="10.6" fill="#efe6da" stroke="#efe6da" stroke-width="0.35">R2=1.41</text>
<text x="499.6" y="444.1" font-family="Liberation Sans" font-size="11" fill="#efe6da" text-anchor="end">&#952;<tspan font-size="7.5" dy="1.5"> b</tspan><tspan dy="-1.5">=48&#176;</tspan></text>
<text x="448" y="490.2" font-family="Liberation Sans" font-size="13" fill="#efe6da">Q</text>
<text x="387.5" y="496.6" font-family="Liberation Serif" font-style="italic" font-size="11" fill="#efe6da">R<tspan font-size="7.5" dy="2.5">&#952;</tspan><tspan dy="-3">&#8217;</tspan><tspan font-family="Liberation Sans" font-style="normal" font-size="8" dy="2">min</tspan></text>
<text x="399.8" y="522" font-family="Liberation Serif" font-style="italic" font-size="11" fill="#efe6da">R<tspan font-size="7.5" dy="2.5">&#952;</tspan><tspan dy="-3">&#8217;</tspan><tspan font-family="Liberation Sans" font-style="normal" font-size="8" dy="2">max</tspan></text>
<text x="422.5" y="531.4" font-family="Liberation Sans" font-size="10.5" fill="#efe6da">R<tspan font-size="5"> &#966; </tspan><tspan font-size="8">max</tspan></text>
<text x="455" y="531.4" font-family="Liberation Sans" font-size="10.5" fill="#efe6da">R<tspan font-size="5"> &#966; </tspan><tspan font-size="8">min</tspan></text>
<rect x="510.2" y="428.0" width="122.8" height="105.7" fill="#7b5a4a"/>
<rect x="567.8" y="428.0" width="5.6" height="105.7" fill="#060606"/>
<path d="M618.6,482 L618.57,483.59 L618.49,485.13 L618.35,486.64 L618.16,488.13 L617.91,489.61 L617.6,491.07 L617.24,492.52 L616.83,493.95 L616.36,495.36 L615.84,496.75 L615.27,498.11 L614.64,499.46 L613.97,500.79 L613.24,502.08 L612.47,503.36 L611.64,504.6 L610.77,505.82 L609.85,507.01 L608.88,508.17 L607.87,509.29 L606.82,510.38 L605.72,511.44 L604.59,512.46 L603.41,513.44 L602.19,514.38 L600.94,515.29 L599.65,516.15 L598.32,516.98 L596.96,517.76 L595.57,518.5 L594.15,519.19 L592.7,519.84 L591.23,520.44 L589.73,520.99 L588.2,521.47 L586.65,521.88 L585.08,522.2 L583.48,522.39 L581.87,522.43 L580.24,522.3 L578.59,522 L576.92,521.58 L575.24,521.11 L573.52,520.72 L571.75,520.51 L569.98,520.56 L568.26,520.84 L566.58,521.25 L564.91,521.68 L563.26,522.02 L561.63,522.22 L560.02,522.24 L558.42,522.11 L556.85,521.83 L555.3,521.45 L553.77,520.98 L552.27,520.44 L550.8,519.84 L549.35,519.19 L547.93,518.5 L546.54,517.76 L545.18,516.98 L543.85,516.15 L542.56,515.29 L541.31,514.38 L540.09,513.44 L538.91,512.46 L537.78,511.44 L536.68,510.38 L535.63,509.29 L534.62,508.17 L533.65,507.01 L532.73,505.82 L531.86,504.6 L531.03,503.36 L530.26,502.08 L529.53,500.79 L528.86,499.46 L528.23,498.11 L527.66,496.75 L527.14,495.36 L526.67,493.95 L526.26,492.52 L525.9,491.07 L525.59,489.61 L525.34,488.13 L525.15,486.64 L525.01,485.13 L524.93,483.59 L524.9,482 L524.93,479.87 L525,478.06 L525.13,476.36 L525.31,474.72 L525.53,473.14 L525.81,471.6 L526.14,470.1 L526.52,468.64 L526.94,467.21 L527.42,465.82 L527.94,464.45 L528.52,463.12 L529.14,461.82 L529.81,460.55 L530.52,459.32 L531.28,458.12 L532.09,456.95 L532.94,455.81 L533.84,454.71 L534.78,453.64 L535.77,452.61 L536.79,451.62 L537.86,450.66 L538.97,449.74 L540.12,448.86 L541.31,448.02 L542.54,447.21 L543.8,446.45 L545.11,445.73 L546.45,445.06 L547.83,444.44 L549.24,443.87 L550.69,443.36 L552.18,442.94 L553.7,442.62 L555.25,442.42 L556.85,442.37 L558.48,442.52 L560.15,442.87 L561.87,443.42 L563.63,444.16 L565.46,444.99 L567.36,445.79 L569.38,446.4 L571.75,446.59 L574.12,446.15 L576.14,445.38 L578.04,444.51 L579.87,443.67 L581.63,442.98 L583.35,442.5 L585.02,442.23 L586.65,442.17 L588.25,442.27 L589.8,442.52 L591.32,442.88 L592.81,443.33 L594.26,443.85 L595.67,444.42 L597.05,445.05 L598.39,445.73 L599.7,446.45 L600.96,447.21 L602.19,448.02 L603.38,448.86 L604.53,449.74 L605.64,450.66 L606.71,451.62 L607.73,452.61 L608.72,453.64 L609.66,454.71 L610.56,455.81 L611.41,456.95 L612.22,458.12 L612.98,459.32 L613.69,460.55 L614.36,461.82 L614.98,463.12 L615.56,464.45 L616.08,465.82 L616.56,467.21 L616.98,468.64 L617.36,470.1 L617.69,471.6 L617.97,473.14 L618.19,474.72 L618.37,476.36 L618.5,478.06 L618.57,479.87 Z" fill="none" stroke="#1b2a44" stroke-width="2.3"/>
<line x1="569.6" y1="481.4" x2="554.85" y2="441.5" stroke="#e8e0d8" stroke-width="0.9" stroke-dasharray="1.4,1.1" opacity="0.9"/>
<line x1="569.6" y1="481.4" x2="587.24" y2="441.5" stroke="#e8e0d8" stroke-width="0.9" stroke-dasharray="1.4,1.1" opacity="0.9"/>
<line x1="569.6" y1="481.4" x2="557.08" y2="523" stroke="#e8e0d8" stroke-width="0.9" stroke-dasharray="1.4,1.1" opacity="0.9"/>
<line x1="569.6" y1="481.4" x2="585.28" y2="523" stroke="#e8e0d8" stroke-width="0.9" stroke-dasharray="1.4,1.1" opacity="0.9"/>
<path d="M562.6,473.4 Q569.6,469.4 576.6,473.4" fill="none" stroke="#e8e0d8" stroke-width="1"/>
<path d="M563.6,493.4 Q569.6,490.4 575.6,493.4" fill="none" stroke="#e8e0d8" stroke-width="1"/>
<line x1="569.6" y1="481.4" x2="534.78" y2="488.08" stroke="#f6e2cc" stroke-width="1.1"/>
<polygon points="528.4,489.3 534.16,484.83 535.41,491.32" fill="#f6e2cc"/>
<line x1="569.6" y1="481.4" x2="554.7" y2="514.09" stroke="#f6e2cc" stroke-width="1.1"/>
<polygon points="552,520 551.69,512.72 557.7,515.45" fill="#f6e2cc"/>
<line x1="569.6" y1="481.4" x2="562.9" y2="517.11" stroke="#f4cfa6" stroke-width="1.1"/>
<polygon points="561.7,523.5 559.66,516.5 566.14,517.72" fill="#f4cfa6"/>
<line x1="569.6" y1="481.4" x2="573.28" y2="514.44" stroke="#f6e2cc" stroke-width="1.1"/>
<polygon points="574,520.9 570,514.81 576.56,514.07" fill="#f6e2cc"/>
<text x="510.3" y="444.1" font-family="Liberation Sans" font-size="10.6" fill="#f0c29a" stroke="#f0c29a" stroke-width="0.35">R1=1.56</text>
<text x="510.3" y="462.2" font-family="Liberation Sans" font-size="10.6" fill="#efe6da" stroke="#efe6da" stroke-width="0.35">R2=1.55</text>
<text x="629.1" y="445" font-family="Liberation Sans" font-size="11" fill="#efe6da" text-anchor="end">&#952;<tspan font-size="7.5" dy="1.5"> b</tspan><tspan dy="-1.5">=38&#176;</tspan></text>
<text x="576.6" y="484.1" font-family="Liberation Sans" font-size="13" fill="#efe6da">Q</text>
<text x="511.8" y="495.7" font-family="Liberation Serif" font-style="italic" font-size="11" fill="#efe6da">R<tspan font-size="7.5" dy="2.5">&#952;</tspan><tspan dy="-3">&#8217;</tspan><tspan font-family="Liberation Sans" font-style="normal" font-size="8" dy="2">min</tspan></text>
<text x="519.6" y="522" font-family="Liberation Serif" font-style="italic" font-size="11" fill="#efe6da">R<tspan font-size="7.5" dy="2.5">&#952;</tspan><tspan dy="-3">&#8217;</tspan><tspan font-family="Liberation Sans" font-style="normal" font-size="8" dy="2">max</tspan></text>
<text x="544.2" y="532.2" font-family="Liberation Sans" font-size="10.5" fill="#efe6da">R<tspan font-size="5"> &#966; </tspan><tspan font-size="8">max</tspan></text>
<text x="577.4" y="532.2" font-family="Liberation Sans" font-size="10.5" fill="#efe6da">R<tspan font-size="5"> &#966; </tspan><tspan font-size="8">min</tspan></text>
<line x1="113.8" y1="891.95" x2="551.3" y2="891.95" stroke="#acacac" stroke-width="1.1" stroke-dasharray="2.8,1.95"/>
<line x1="113.8" y1="831.7" x2="551.3" y2="831.7" stroke="#acacac" stroke-width="1.1" stroke-dasharray="2.8,1.95"/>
<line x1="113.8" y1="771.45" x2="551.3" y2="771.45" stroke="#acacac" stroke-width="1.1" stroke-dasharray="2.8,1.95"/>
<line x1="113.8" y1="711.2" x2="551.3" y2="711.2" stroke="#acacac" stroke-width="1.1" stroke-dasharray="2.8,1.95"/>
<line x1="113.8" y1="650.95" x2="551.3" y2="650.95" stroke="#acacac" stroke-width="1.1" stroke-dasharray="2.8,1.95"/>
<rect x="149.1" y="748.56" width="29.1" height="203.64" fill="#f9c79a" stroke="#3c3c34" stroke-width="1.1"/>
<rect x="179.5" y="764.22" width="28.9" height="187.98" fill="#9fd69d" stroke="#3c3c34" stroke-width="1.1"/>
<text x="163.55" y="744.56" font-size="13.6" fill="#ff0000" text-anchor="middle">1.69</text>
<text x="193.45" y="759.42" font-size="13.6" text-anchor="middle">1.56</text>
<rect x="223.9" y="767.84" width="29.1" height="184.37" fill="#f9c79a" stroke="#3c3c34" stroke-width="1.1"/>
<rect x="254.3" y="776.27" width="28.9" height="175.93" fill="#9fd69d" stroke="#3c3c34" stroke-width="1.1"/>
<text x="238.35" y="763.84" font-size="13.6" fill="#ff0000" text-anchor="middle">1.53</text>
<text x="268.25" y="771.47" font-size="13.6" text-anchor="middle">1.46</text>
<rect x="298.6" y="776.27" width="29.1" height="175.93" fill="#f9c79a" stroke="#3c3c34" stroke-width="1.1"/>
<rect x="329" y="783.5" width="28.9" height="168.7" fill="#9fd69d" stroke="#3c3c34" stroke-width="1.1"/>
<text x="313.05" y="772.27" font-size="13.6" fill="#ff0000" text-anchor="middle">1.46</text>
<text x="342.95" y="778.7" font-size="13.6" text-anchor="middle">1.40</text>
<rect x="373.2" y="779.88" width="29.1" height="172.32" fill="#f9c79a" stroke="#3c3c34" stroke-width="1.1"/>
<rect x="403.6" y="782.3" width="28.9" height="169.9" fill="#9fd69d" stroke="#3c3c34" stroke-width="1.1"/>
<text x="387.65" y="775.88" font-size="13.6" fill="#ff0000" text-anchor="middle">1.43</text>
<text x="417.55" y="777.5" font-size="13.6" text-anchor="middle">1.41</text>
<rect x="447.9" y="764.22" width="29.1" height="187.98" fill="#f9c79a" stroke="#3c3c34" stroke-width="1.1"/>
<rect x="478.3" y="765.43" width="28.9" height="186.77" fill="#9fd69d" stroke="#3c3c34" stroke-width="1.1"/>
<text x="462.35" y="760.22" font-size="13.6" fill="#ff0000" text-anchor="middle">1.56</text>
<text x="492.25" y="760.63" font-size="13.6" text-anchor="middle">1.55</text>
<path d="M178.5,606.25 L182.24,610.24 L185.98,614.22 L189.72,618.17 L193.46,622.07 L197.2,625.92 L200.94,629.69 L204.68,633.37 L208.42,636.96 L212.16,640.42 L215.9,643.76 L219.64,646.94 L223.38,649.97 L227.12,652.82 L230.86,655.49 L234.6,657.95 L238.34,660.18 L242.08,662.19 L245.82,663.95 L249.56,665.44 L253.3,666.66 L257.04,667.59 L260.77,668.26 L264.5,668.7 L268.24,668.94 L271.98,669.01 L275.71,668.95 L279.44,668.77 L283.18,668.52 L286.92,668.22 L290.65,667.91 L294.38,667.61 L298.12,667.36 L301.86,667.18 L305.59,667.11 L309.32,667.17 L313.06,667.4 L316.8,667.83 L320.53,668.49 L324.26,669.41 L328,670.62 L331.73,672.13 L335.46,673.94 L339.19,676.01 L342.92,678.32 L346.65,680.84 L350.38,683.54 L354.11,686.4 L357.84,689.39 L361.57,692.47 L365.3,695.63 L369.03,698.83 L372.76,702.05 L376.49,705.26 L380.22,708.44 L383.95,711.55 L387.68,714.57 L391.41,717.46 L395.14,720.22 L398.87,722.8 L402.6,725.17 L406.53,727.44 L410.46,729.46 L414.39,731.26 L418.33,732.84 L422.26,734.22 L426.19,735.41 L430.12,736.43 L434.05,737.29 L437.98,738 L441.92,738.58 L445.85,739.04 L449.78,739.39 L453.71,739.65 L457.64,739.83 L461.57,739.94 L465.51,739.99 L469.44,740.01 L473.37,740 L477.3,739.97" fill="none" stroke="#000" stroke-width="2" stroke-dasharray="8.7,8.5"/>
<rect x="174.5" y="602.25" width="8" height="8" fill="#000"/>
<rect x="249.3" y="662.66" width="8" height="8" fill="#000"/>
<rect x="324" y="666.62" width="8" height="8" fill="#000"/>
<rect x="398.6" y="721.17" width="8" height="8" fill="#000"/>
<rect x="473.3" y="735.97" width="8" height="8" fill="#000"/>
<text x="196.2" y="604.9" font-size="13.8" text-anchor="middle">8.09</text>
<text x="256.4" y="654.2" font-size="13.8" text-anchor="middle">4.58</text>
<text x="332.5" y="663.7" font-size="13.8" text-anchor="middle">4.35</text>
<text x="407.4" y="715.9" font-size="13.8" text-anchor="middle">1.18</text>
<text x="483.2" y="731.1" font-size="13.8" text-anchor="middle">0.32</text>
<rect x="104.4" y="590.5" width="447.9" height="361.7" fill="none" stroke="#000" stroke-width="2.3"/>
<line x1="104.4" y1="952.2" x2="111.4" y2="952.2" stroke="#000" stroke-width="2"/>
<text x="96.3" y="956.9" font-size="15.8" text-anchor="end">0.0</text>
<line x1="104.4" y1="891.95" x2="111.4" y2="891.95" stroke="#000" stroke-width="2"/>
<text x="96.3" y="896.65" font-size="15.8" text-anchor="end">0.5</text>
<line x1="104.4" y1="831.7" x2="111.4" y2="831.7" stroke="#000" stroke-width="2"/>
<text x="96.3" y="836.4" font-size="15.8" text-anchor="end">1.0</text>
<line x1="104.4" y1="771.45" x2="111.4" y2="771.45" stroke="#000" stroke-width="2"/>
<text x="96.3" y="776.15" font-size="15.8" text-anchor="end">1.5</text>
<line x1="104.4" y1="711.2" x2="111.4" y2="711.2" stroke="#000" stroke-width="2"/>
<text x="96.3" y="715.9" font-size="15.8" text-anchor="end">2.0</text>
<line x1="104.4" y1="650.95" x2="111.4" y2="650.95" stroke="#000" stroke-width="2"/>
<text x="96.3" y="655.65" font-size="15.8" text-anchor="end">2.5</text>
<line x1="104.4" y1="590.7" x2="111.4" y2="590.7" stroke="#000" stroke-width="2"/>
<text x="96.3" y="595.4" font-size="15.8" text-anchor="end">3.0</text>
<line x1="552.3" y1="952" x2="545.3" y2="952" stroke="#000" stroke-width="2"/>
<text x="560" y="957.3" font-size="16">-12</text>
<line x1="552.3" y1="917.58" x2="545.3" y2="917.58" stroke="#000" stroke-width="2"/>
<text x="560" y="922.88" font-size="16">-10</text>
<line x1="552.3" y1="883.16" x2="545.3" y2="883.16" stroke="#000" stroke-width="2"/>
<text x="560" y="888.46" font-size="16">-8</text>
<line x1="552.3" y1="848.74" x2="545.3" y2="848.74" stroke="#000" stroke-width="2"/>
<text x="560" y="854.04" font-size="16">-6</text>
<line x1="552.3" y1="814.32" x2="545.3" y2="814.32" stroke="#000" stroke-width="2"/>
<text x="560" y="819.62" font-size="16">-4</text>
<line x1="552.3" y1="779.9" x2="545.3" y2="779.9" stroke="#000" stroke-width="2"/>
<text x="560" y="785.2" font-size="16">-2</text>
<line x1="552.3" y1="745.48" x2="545.3" y2="745.48" stroke="#000" stroke-width="2"/>
<text x="560" y="750.78" font-size="16">0</text>
<line x1="552.3" y1="711.06" x2="545.3" y2="711.06" stroke="#000" stroke-width="2"/>
<text x="560" y="716.36" font-size="16">2</text>
<line x1="552.3" y1="676.64" x2="545.3" y2="676.64" stroke="#000" stroke-width="2"/>
<text x="560" y="681.94" font-size="16">4</text>
<line x1="552.3" y1="642.22" x2="545.3" y2="642.22" stroke="#000" stroke-width="2"/>
<text x="560" y="647.52" font-size="16">6</text>
<line x1="552.3" y1="607.8" x2="545.3" y2="607.8" stroke="#000" stroke-width="2"/>
<text x="560" y="613.1" font-size="16">8</text>
<line x1="178.5" y1="952.2" x2="178.5" y2="946.2" stroke="#000" stroke-width="2"/>
<text x="178.5" y="969.6" font-size="16" text-anchor="middle">10.4</text>
<line x1="253.3" y1="952.2" x2="253.3" y2="946.2" stroke="#000" stroke-width="2"/>
<text x="253.3" y="969.6" font-size="16" text-anchor="middle">15.6</text>
<line x1="328" y1="952.2" x2="328" y2="946.2" stroke="#000" stroke-width="2"/>
<text x="328" y="969.6" font-size="16" text-anchor="middle">18.2</text>
<line x1="402.6" y1="952.2" x2="402.6" y2="946.2" stroke="#000" stroke-width="2"/>
<text x="402.6" y="969.6" font-size="16" text-anchor="middle">20.8</text>
<line x1="477.3" y1="952.2" x2="477.3" y2="946.2" stroke="#000" stroke-width="2"/>
<text x="477.3" y="969.6" font-size="16" text-anchor="middle">24.7</text>
<text x="295.5" y="988.3" font-size="15" font-weight="bold">Time (T, ms)</text>
<text x="111.2" y="614" font-size="19">(b)</text>
<text transform="translate(73.1,909.6) rotate(-90)" font-size="15.6" font-weight="bold">Range of Extracted Radius Values(R,mm)</text>
<text transform="translate(587,857.5) rotate(-90)" font-size="15.6" font-weight="bold">Range Optimization Rate</text>
<text transform="translate(609.6,900) rotate(-90)" font-size="15.6" font-weight="bold">of Extracted Radius Values(&#916;R/R<tspan font-size="15" dy="5.2">1</tspan><tspan dy="-5.2">, %)</tspan></text>
<line x1="435.9" y1="610.8" x2="443.3" y2="610.8" stroke="#000" stroke-width="2"/>
<rect x="448" y="606.8" width="8" height="8" fill="#000"/>
<line x1="457.5" y1="610.8" x2="465" y2="610.8" stroke="#000" stroke-width="2"/>
<text x="475.2" y="616.8" font-size="14.5" font-weight="bold">&#916;R/R<tspan font-size="11" dy="3">1</tspan></text>
<rect x="437.3" y="623" width="30" height="14.6" fill="#f9c79a" stroke="#3a3a3a" stroke-width="1"/>
<text x="475.2" y="635.9" font-size="14.5" font-weight="bold">R<tspan font-size="11" dy="3">1</tspan></text>
<rect x="437.3" y="646" width="30" height="14.2" fill="#9fd69d" stroke="#3a3a3a" stroke-width="1"/>
<text x="475.2" y="658.2" font-size="14.5" font-weight="bold">R<tspan font-size="11" dy="3">2</tspan></text>
<text x="127.2" y="655.8" font-size="14.2" font-weight="bold">T<tspan font-size="9.5" dy="3.6">u</tspan><tspan dy="-3.6">=423K</tspan></text>
<text x="127.2" y="675.8" font-size="14.2" font-weight="bold"><tspan font-style="italic">P</tspan><tspan font-size="9.5" dy="3.6">u</tspan><tspan dy="-3.6">=0.2MPa</tspan></text>
<text x="127.2" y="698.4" font-size="14.2">&#934;<tspan font-weight="bold"> =1.1</tspan></text>
<text x="127.2" y="717.7" font-size="14.2">&#934;<tspan font-size="10" font-style="italic" font-weight="bold" dy="3">r</tspan><tspan font-weight="bold" dy="-3">=16%</tspan></text>
</svg>
</body></html>
